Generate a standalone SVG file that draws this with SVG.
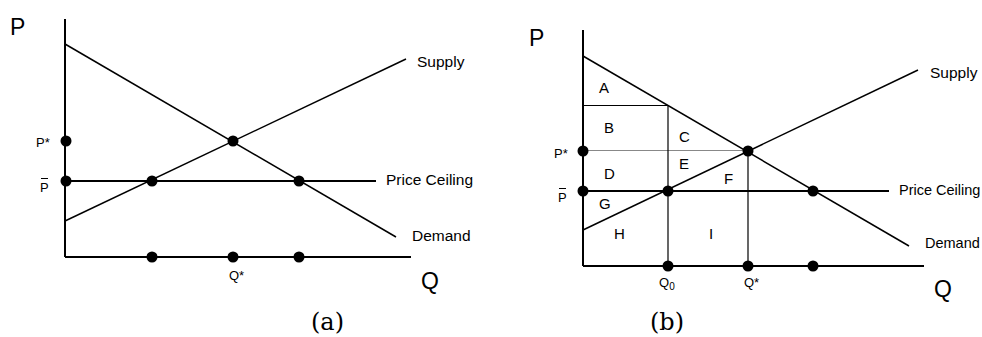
<svg xmlns="http://www.w3.org/2000/svg" width="982" height="337" viewBox="0 0 982 337">
<style>
.ax{stroke:#000;stroke-width:2;fill:none}
.cv{stroke:#000;stroke-width:1.5;fill:none}
.thin{stroke:#000;stroke-width:1.2;fill:none}
.gr{stroke:#888;stroke-width:1;fill:none}
.dot{fill:#000}
.t{font-family:"Liberation Sans",Arial,sans-serif;fill:#000}
.lbl{font-size:15.5px}
.lbb{font-size:14.5px}
.sm{font-size:13px}
.big{font-size:23px}
.reg{font-size:15px}
.cap{font-family:"DejaVu Serif",serif;font-size:24px;fill:#000}
</style>
<g id="panel-a">
  <g id="a-connectors">
    <line class="ax" x1="65" y1="19" x2="65" y2="257"/>
    <line class="ax" x1="65" y1="257" x2="411" y2="257"/>
    <line class="cv" x1="65" y1="44" x2="396" y2="237"/>
    <line class="cv" x1="65" y1="221" x2="406" y2="59"/>
    <line class="ax" x1="65" y1="181" x2="376" y2="181"/>
  </g>
  <g id="a-dots">
    <circle class="dot" cx="66" cy="141" r="5.5"/>
    <circle class="dot" cx="66" cy="181" r="5.5"/>
    <circle class="dot" cx="152" cy="181" r="5.5"/>
    <circle class="dot" cx="299" cy="181" r="5.5"/>
    <circle class="dot" cx="233" cy="141" r="5.5"/>
    <circle class="dot" cx="152" cy="257" r="5.5"/>
    <circle class="dot" cx="233" cy="257" r="5.5"/>
    <circle class="dot" cx="299" cy="257" r="5.5"/>
  </g>
  <g id="a-labels">
    <text class="t big" x="10" y="35">P</text>
    <text class="t big" x="421" y="289">Q</text>
    <text class="t lbl" x="417" y="67">Supply</text>
    <text class="t lbl" x="386" y="185">Price Ceiling</text>
    <text class="t lbl" x="412" y="241">Demand</text>
    <text class="t sm" x="36" y="147">P*</text>
    <text class="t sm" x="40" y="192">P</text>
    <line x1="41" y1="178.5" x2="48" y2="178.5" stroke="#000" stroke-width="1"/>
    <text class="t sm" x="229" y="280">Q*</text>
    <text class="cap" x="311" y="330">(a)</text>
  </g>
</g>
<g id="panel-b">
  <g id="b-connectors">
    <line class="ax" x1="583" y1="30" x2="583" y2="266"/>
    <line class="ax" x1="583" y1="266" x2="924" y2="266"/>
    <line class="cv" x1="583" y1="56" x2="909" y2="246"/>
    <line class="cv" x1="583" y1="230" x2="918" y2="70"/>
    <line class="ax" x1="583" y1="191" x2="889" y2="191"/>
    <line class="gr" x1="583" y1="150.5" x2="748" y2="150.5"/>
    <line class="thin" x1="583" y1="105.5" x2="668" y2="105.5"/>
    <line class="thin" x1="668" y1="105.5" x2="668" y2="266"/>
    <line class="thin" x1="748" y1="151" x2="748" y2="266"/>
  </g>
  <g id="b-dots">
    <circle class="dot" cx="583" cy="151" r="5.5"/>
    <circle class="dot" cx="583" cy="191" r="5.5"/>
    <circle class="dot" cx="668" cy="191" r="5.5"/>
    <circle class="dot" cx="748" cy="151" r="5.5"/>
    <circle class="dot" cx="813" cy="191" r="5.5"/>
    <circle class="dot" cx="668" cy="266" r="5.5"/>
    <circle class="dot" cx="748" cy="266" r="5.5"/>
    <circle class="dot" cx="813" cy="266" r="5.5"/>
  </g>
  <g id="b-labels">
    <text class="t big" x="529" y="46">P</text>
    <text class="t big" x="934" y="297">Q</text>
    <text class="t lbl" x="930" y="78">Supply</text>
    <text class="t lbb" x="899" y="195">Price Ceiling</text>
    <text class="t lbb" x="925" y="248">Demand</text>
    <text class="t sm" x="554" y="158">P*</text>
    <text class="t sm" x="558" y="202">P</text>
    <line x1="559" y1="188.5" x2="566" y2="188.5" stroke="#000" stroke-width="1"/>
    <text class="t sm" x="659" y="287">Q<tspan font-size="10" dy="3">0</tspan></text>
    <text class="t sm" x="744" y="287">Q*</text>
    <text class="t reg" x="599" y="93">A</text>
    <text class="t reg" x="604" y="133">B</text>
    <text class="t reg" x="679" y="142">C</text>
    <text class="t reg" x="679" y="169">E</text>
    <text class="t reg" x="604" y="179">D</text>
    <text class="t reg" x="724" y="184">F</text>
    <text class="t reg" x="599" y="209">G</text>
    <text class="t reg" x="614" y="239">H</text>
    <text class="t reg" x="709" y="239">I</text>
    <text class="cap" x="650" y="330">(b)</text>
  </g>
</g>
</svg>
